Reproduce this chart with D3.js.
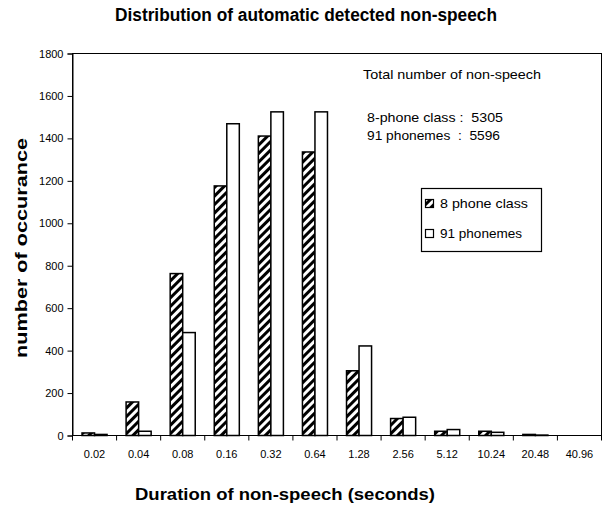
<!DOCTYPE html>
<html><head><meta charset="utf-8">
<script src="https://cdn.jsdelivr.net/npm/d3@7"></script>
<style>body{margin:0;background:#fff}svg{display:block}text{font-family:Arial,"Liberation Sans",sans-serif}</style>
</head><body><svg id="c" width="606" height="510"></svg>
<script>
const categories = ["0.02","0.04","0.08","0.16","0.32","0.64","1.28","2.56","5.12","10.24","20.48","40.96"];
const series = ["8 phone class","91 phonemes"];
const phoneClass8 = [12,158,763,1176,1411,1336,305,80,20,20,5,0];
const phonemes91 = [5,20,485,1469,1525,1525,422,86,28,15,2,0];
const yTicks = [0,200,400,600,800,1000,1200,1400,1600,1800];
const annot = ["Total number of non-speech","8-phone class :  5305","91 phonemes  :  5596"];

const svg = d3.select("#c");
const L=72.5, R=601.5, T=53.5, B=435.5;
const x = d3.scaleBand().domain(categories).range([L,R]).padding(0);
const x1 = d3.scaleBand().domain(series).range([0,x.bandwidth()]).paddingInner(0).paddingOuter(0.76);
const y = d3.scaleLinear().domain([0,1800]).range([B,T]);

const defs = svg.append("defs");
const pat = defs.append("pattern").attr("id","hatch").attr("patternUnits","userSpaceOnUse")
  .attr("width",6).attr("height",6).attr("patternTransform","rotate(45)");
pat.append("rect").attr("width",6).attr("height",6).attr("fill","#fff");
pat.append("rect").attr("x",0).attr("width",3).attr("height",6).attr("fill","#000");

svg.append("text").attr("x",306).attr("y",21).attr("text-anchor","middle")
  .attr("font-size",18).attr("font-weight","bold").attr("textLength",382).attr("lengthAdjust","spacingAndGlyphs")
  .text("Distribution of automatic detected non-speech");

svg.append("rect").attr("x",L).attr("y",T).attr("width",R-L).attr("height",B-T)
  .attr("fill","none").attr("stroke","#000").attr("stroke-width",1);

const ya = svg.append("g").attr("transform",`translate(${L},0)`)
  .call(d3.axisLeft(y).tickValues(yTicks).tickSize(5).tickPadding(4).tickFormat(d3.format("d")));
ya.select(".domain").attr("stroke","#000");
ya.selectAll("line").attr("stroke","#000");
ya.selectAll("text").attr("font-size",11).attr("fill","#000").attr("font-family","Arial,'Liberation Sans',sans-serif");

const xa = svg.append("g");
xa.selectAll("line").data(categories.concat(["end"])).join("line")
  .attr("x1",(d,i)=> i<categories.length ? x(d) : R).attr("x2",(d,i)=> i<categories.length ? x(d) : R)
  .attr("y1",B).attr("y2",B+5).attr("stroke","#000");
xa.selectAll("text").data(categories).join("text")
  .attr("x",d=>x(d)+x.bandwidth()/2).attr("y",B+22.5).attr("text-anchor","middle")
  .attr("font-size",11).text(d=>d);

const data = categories.map((c,i)=>({c, vals:[{s:series[0],v:phoneClass8[i]},{s:series[1],v:phonemes91[i]}]}));
const g = svg.append("g");
g.selectAll("g").data(data).join("g").attr("transform",d=>`translate(${x(d.c)},0)`)
  .selectAll("rect").data(d=>d.vals).join("rect")
  .attr("x",d=>x1(d.s)).attr("width",x1.bandwidth())
  .attr("y",d=>y(d.v)).attr("height",d=>B-y(d.v))
  .attr("fill",d=>d.s===series[0]?"url(#hatch)":"#fff")
  .attr("stroke","#000").attr("stroke-width",1.5);

svg.append("text").attr("x",363).attr("y",79).attr("font-size",13).attr("textLength",178).attr("lengthAdjust","spacingAndGlyphs").text(annot[0]);
svg.append("text").attr("x",367).attr("y",122).attr("font-size",13).attr("textLength",136).attr("lengthAdjust","spacingAndGlyphs").style("white-space","pre").text(annot[1]);
svg.append("text").attr("x",367).attr("y",140).attr("font-size",13).attr("textLength",133).attr("lengthAdjust","spacingAndGlyphs").style("white-space","pre").text(annot[2]);

const lg = svg.append("g");
lg.append("rect").attr("x",421.5).attr("y",188.5).attr("width",120).attr("height",63)
  .attr("fill","#fff").attr("stroke","#000").attr("stroke-width",1.2);
const legLen = [88,82];
series.forEach((s,i)=>{
  const yy = 204 + i*30;
  lg.append("rect").attr("x",425.5).attr("y",yy-4.5).attr("width",8).attr("height",8)
    .attr("fill", i===0 ? "url(#hatch)" : "#fff").attr("stroke","#000").attr("stroke-width",1.2);
  lg.append("text").attr("x",440).attr("y",yy+4).attr("font-size",13)
    .attr("textLength",legLen[i]).attr("lengthAdjust","spacingAndGlyphs").text(s);
});

svg.append("text").attr("transform","translate(27,248) rotate(-90)").attr("text-anchor","middle")
  .attr("font-size",17).attr("font-weight","bold").attr("textLength",220).attr("lengthAdjust","spacingAndGlyphs")
  .text("number of occurance");
svg.append("text").attr("x",285).attr("y",500).attr("text-anchor","middle")
  .attr("font-size",17).attr("font-weight","bold").attr("textLength",300).attr("lengthAdjust","spacingAndGlyphs")
  .text("Duration of non-speech (seconds)");
</script></body></html>
